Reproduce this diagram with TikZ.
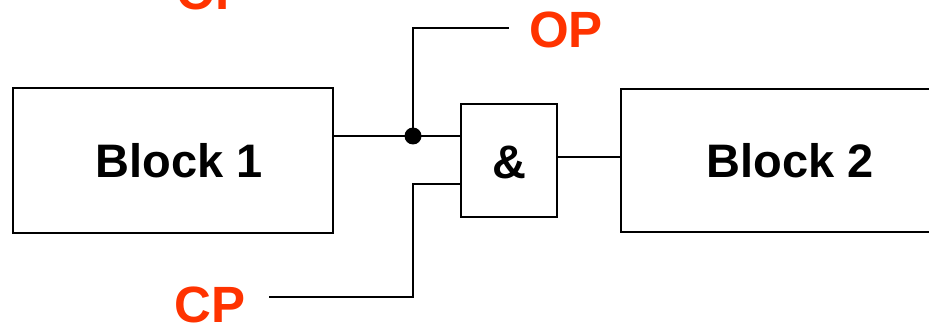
\documentclass[tikz,border=0pt]{standalone}
\usepackage{fontspec}
\setmainfont{Liberation Sans}
\definecolor{sigred}{RGB}{255,51,0}
\tikzset{
  blockbox/.style={draw=black, line width=2.8pt, inner sep=0pt},
  bigtext/.style={font=\bfseries\fontsize{47}{47}\selectfont, inner sep=0pt},
  siglabel/.style={font=\bfseries\fontsize{51}{51}\selectfont, inner sep=0pt, text=sigred, anchor=base west},
  wire/.style={line width=2.8pt, draw=black}
}
\begin{document}
\begin{tikzpicture}[x=1pt, y=-1pt]
\useasboundingbox (0,0) rectangle (929,326);
\clip (0,0) rectangle (929,326);

% blocks and the AND gate
\node[blockbox, minimum width=320pt, minimum height=145pt] (b1) at (173,160.5) {};
\node[bigtext] (b1t) at (179.5,160.5) {Block 1};
\node[blockbox, minimum width=339pt, minimum height=143pt] (b2) at (790.5,160.5) {};
\node[bigtext] (b2t) at (b2.center) {Block 2};
\node[blockbox, minimum width=96pt, minimum height=113pt] (gate) at (509,160.5) {};
\node[bigtext] (amp) at (509,162) {\&};

% signal labels
\node[siglabel] (optop) at (176,9.5) {OP};
\node[siglabel] (op) at (529,47.5) {OP};
\node[siglabel] (cp) at (174,322) {CP};

% wire junctions and ends
\coordinate (j) at (413,136);
\coordinate (opend) at (509,28);
\coordinate (yout) at (0,157);
\coordinate (cpin) at (413,184);
\coordinate (cpend) at (269,297);

% wiring
\draw[wire] (b1.east |- j) -- (j) -- (gate.west |- j);
\draw[wire] (j) |- (opend);
\fill (j) circle (8.5pt);
\draw[wire] (gate.east |- yout) -- (b2.west |- yout);
\draw[wire] (gate.west |- cpin) -- (cpin) |- (cpend);
\end{tikzpicture}
\end{document}
